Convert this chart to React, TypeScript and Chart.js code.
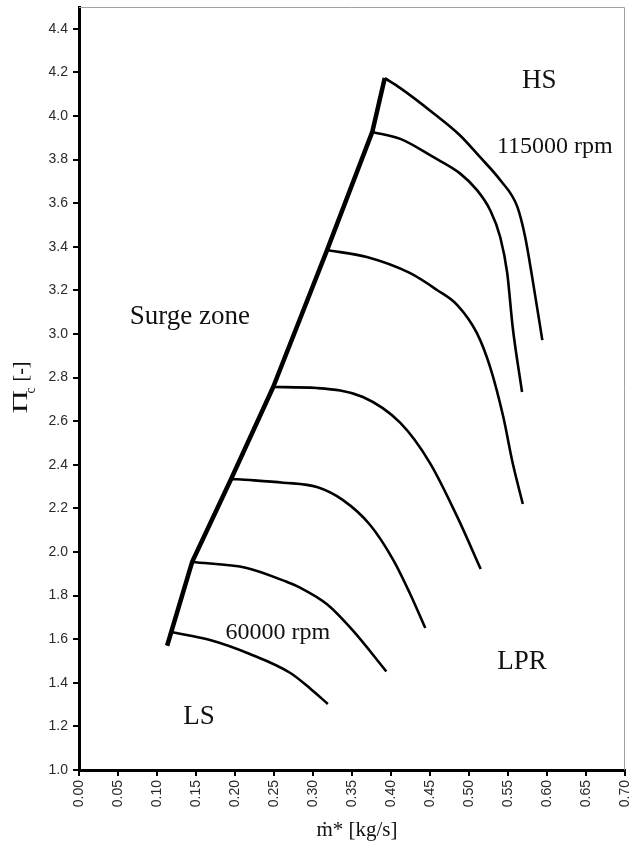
import React, { useEffect, useRef } from 'react';
import { Chart, registerables } from 'chart.js';

Chart.register(...registerables);

// ---- Data ----
const surgeX = [0.113, 0.145, 0.195, 0.249, 0.318, 0.376, 0.392];
const surgeY = [1.57, 1.954, 2.335, 2.757, 3.385, 3.927, 4.174];

const speed1X = [0.118, 0.168, 0.219, 0.271, 0.296, 0.319];
const speed1Y = [1.633, 1.596, 1.532, 1.445, 1.375, 1.303];

const speed2X = [0.145, 0.215, 0.267, 0.282, 0.318, 0.351, 0.394];
const speed2Y = [1.954, 1.927, 1.862, 1.839, 1.76, 1.64, 1.452];

const speed3X = [0.195, 0.219, 0.262, 0.305, 0.338, 0.373, 0.403, 0.424, 0.444];
const speed3Y = [2.335, 2.33, 2.318, 2.298, 2.239, 2.125, 1.963, 1.812, 1.651];

const speed4X = [0.249, 0.305, 0.364, 0.412, 0.45, 0.485, 0.515];
const speed4Y = [2.757, 2.752, 2.711, 2.592, 2.408, 2.161, 1.922];

const speed5X = [0.318, 0.369, 0.424, 0.459, 0.485, 0.51, 0.527, 0.544, 0.556, 0.569];
const speed5Y = [3.385, 3.353, 3.28, 3.202, 3.133, 3.005, 2.849, 2.619, 2.408, 2.22];

const speed6X = [0.376, 0.412, 0.454, 0.488, 0.51, 0.527, 0.54, 0.549, 0.556, 0.568];
const speed6Y = [3.927, 3.895, 3.812, 3.738, 3.661, 3.569, 3.445, 3.28, 3.032, 2.734];

const speed7X = [0.392, 0.412, 0.454, 0.488, 0.514, 0.54, 0.562, 0.572, 0.581, 0.594];
const speed7Y = [4.174, 4.128, 4.014, 3.913, 3.812, 3.706, 3.583, 3.445, 3.261, 2.972];

const speedXs = [speed1X, speed2X, speed3X, speed4X, speed5X, speed6X, speed7X];
const speedYs = [speed1Y, speed2Y, speed3Y, speed4Y, speed5Y, speed6Y, speed7Y];

// annotations (text, anchored in data coordinates at baseline centre)
const noteTexts = ['HS', '115000 rpm', 'Surge zone', '60000 rpm', 'LPR', 'LS'];
const noteX = [0.59, 0.61, 0.142, 0.255, 0.568, 0.154];
const noteY = [4.128, 3.83, 3.046, 1.601, 1.463, 1.211];

const xTitle = 'ṁ* [kg/s]';
const yTitleMain = 'Π';
const yTitleSub = 'c';
const yTitleRest = '[-]';

const xMin = 0;
const xMax = 0.7;
const xStep = 0.05;
const yMin = 1.0;
const yMax = 4.5;
const yStep = 0.2;

// ---- styles ----
const SERIF = '"Liberation Serif", "DejaVu Serif", "Times New Roman", serif';
const SANS = '"Liberation Sans", Arial, sans-serif';
const noteSizes = [27, 24, 27, 24, 27, 27];

const pts = (xs: number[], ys: number[]) => xs.map((x, i) => ({ x, y: ys[i] }));

const decorPlugin = {
  id: 'decor',
  afterDraw(chart: any) {
    const { ctx, chartArea } = chart;
    const xs = chart.scales.x;
    const ys = chart.scales.y;
    ctx.save();
    // thin grey frame top / right
    ctx.strokeStyle = '#a0a0a0';
    ctx.lineWidth = 1;
    ctx.beginPath();
    ctx.moveTo(chartArea.left, chartArea.top + 0.5);
    ctx.lineTo(chartArea.right - 0.5, chartArea.top + 0.5);
    ctx.lineTo(chartArea.right - 0.5, chartArea.bottom);
    ctx.stroke();

    // annotations
    ctx.fillStyle = '#111';
    ctx.textAlign = 'center';
    ctx.textBaseline = 'alphabetic';
    noteTexts.forEach((t, i) => {
      ctx.font = `${noteSizes[i]}px ${SERIF}`;
      ctx.fillText(t, xs.getPixelForValue(noteX[i]), ys.getPixelForValue(noteY[i]));
    });

    // x title
    ctx.font = `21px ${SERIF}`;
    ctx.textBaseline = 'alphabetic';
    ctx.fillText(xTitle, (chartArea.left + chartArea.right) / 2 + 5, chartArea.bottom + 66);

    // y title (rotated)
    const cy = (chartArea.top + chartArea.bottom) / 2;
    ctx.translate(27, cy);
    ctx.rotate(-Math.PI / 2);
    ctx.textAlign = 'left';
    ctx.save();
    ctx.translate(-25, 0);
    ctx.scale(1.55, 1);
    ctx.font = `21px ${SERIF}`;
    ctx.fillText(yTitleMain, 0, 0);
    ctx.restore();
    ctx.font = `14px ${SERIF}`;
    ctx.fillText(yTitleSub, -5, 8);
    ctx.font = `20px ${SERIF}`;
    ctx.fillText(yTitleRest, 7, 0);
    ctx.restore();
  },
};

export default function App() {
  const ref = useRef<HTMLCanvasElement | null>(null);

  useEffect(() => {
    if (!ref.current) return;
    const datasets: any[] = [
      {
        label: 'surge',
        data: pts(surgeX, surgeY),
        borderColor: '#000',
        borderWidth: 4.5,
        pointRadius: 0,
        tension: 0,
        borderCapStyle: 'butt',
        borderJoinStyle: 'round',
      },
      ...speedXs.map((xs, i) => ({
        label: `speed${i + 1}`,
        data: pts(xs, speedYs[i]),
        borderColor: '#000',
        borderWidth: 2.6,
        pointRadius: 0,
        cubicInterpolationMode: 'monotone',
        borderCapStyle: 'butt',
      })),
    ];

    const chart = new Chart(ref.current, {
      type: 'line',
      data: { datasets },
      plugins: [decorPlugin as any],
      options: {
        animation: false,
        responsive: false,
        layout: { padding: { top: 7, right: 4, left: 0, bottom: 0 } },
        plugins: {
          legend: { display: false },
          tooltip: { enabled: false },
        },
        scales: {
          x: {
            type: 'linear',
            min: xMin,
            max: xMax,
            afterFit(scale: any) {
              scale.height = 74;
              scale.paddingLeft = 0;
              scale.paddingRight = 0;
            },
            ticks: {
              stepSize: xStep,
              minRotation: 90,
              maxRotation: 90,
              padding: 4,
              color: '#2a2a2a',
              font: { family: SANS, size: 14 },
              callback: (v: any) => Number(v).toFixed(2),
            },
            grid: {
              drawOnChartArea: false,
              drawTicks: true,
              tickLength: 6,
              tickColor: '#000',
              lineWidth: 2,
            },
            border: { display: true, color: '#000', width: 3 },
          },
          y: {
            type: 'linear',
            min: yMin,
            max: yMax,
            afterFit(scale: any) {
              scale.width = 79;
              scale.paddingTop = 0;
              scale.paddingBottom = 0;
            },
            ticks: {
              stepSize: yStep,
              includeBounds: false,
              padding: 5,
              color: '#2a2a2a',
              font: { family: SANS, size: 14 },
              callback: (v: any) => Number(v).toFixed(1),
            },
            grid: {
              drawOnChartArea: false,
              drawTicks: true,
              tickLength: 6,
              tickColor: '#000',
              lineWidth: 2,
            },
            border: { display: true, color: '#000', width: 3 },
          },
        },
      } as any,
    });
    return () => chart.destroy();
  }, []);

  return (
    <div style={{ position: 'absolute', left: 0, top: 0, width: 629, height: 844, background: '#fff' }}>
      <canvas ref={ref} width={629} height={844} style={{ display: 'block' }} />
    </div>
  );
}
